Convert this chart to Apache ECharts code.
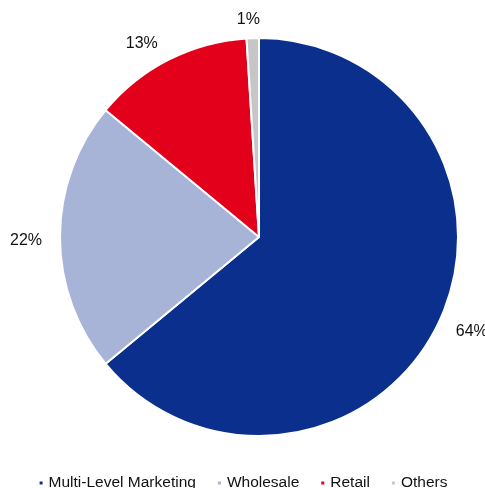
<!DOCTYPE html>
<html>
<head>
<meta charset="utf-8">
<script src="https://cdn.jsdelivr.net/npm/echarts@6/dist/echarts.min.js"></script>
<style>
  html, body { margin: 0; padding: 0; background: #fff; }
  #chart { width: 485px; height: 488px; }
</style>
</head>
<body>
<div id="chart"></div>
<script>
// Sales channel breakdown
const categories = ['Multi-Level Marketing', 'Wholesale', 'Retail', 'Others'];
const shares = [64, 22, 13, 1];
const colors = ['#0A2F8C', '#A8B3D8', '#E3001B', '#C6C6C6'];

const chart = echarts.init(document.getElementById('chart'), null, { renderer: 'canvas' });

// small vertical nudges so the outside labels clear the rim evenly
const labelNudgeY = [4, 4, -5, -6];

chart.setOption({
  animation: false,
  color: colors,
  textStyle: { fontFamily: 'Liberation Sans, Arial, sans-serif' },
  legend: {
    bottom: -8,
    left: 'center',
    icon: 'rect',
    itemWidth: 5,
    itemHeight: 5,
    itemGap: 20,
    textStyle: { fontSize: 15.5, color: '#111', fontFamily: 'Liberation Sans, Arial, sans-serif' },
    data: categories
  },
  series: [{
    type: 'pie',
    center: [259, 237],
    radius: 199,
    startAngle: 90,
    clockwise: true,
    avoidLabelOverlap: false,
    itemStyle: { borderColor: '#fff', borderWidth: 2 },
    label: {
      show: true,
      position: 'outside',
      formatter: '{c}%',
      fontSize: 16,
      color: '#111',
      fontFamily: 'Liberation Sans, Arial, sans-serif'
    },
    labelLine: { show: false, length: 13, length2: 0 },
    labelLayout: function (params) {
      const i = params.dataIndex;
      // the tiny slice sits at the top: centre its label over the anchor
      const dx = i === 3 ? params.labelRect.width / 2 + 1 : 0;
      return { dx: dx, dy: labelNudgeY[i] };
    },
    emphasis: { disabled: true },
    data: categories.map((name, i) => ({ name, value: shares[i] }))
  }]
});
</script>
</body>
</html>
